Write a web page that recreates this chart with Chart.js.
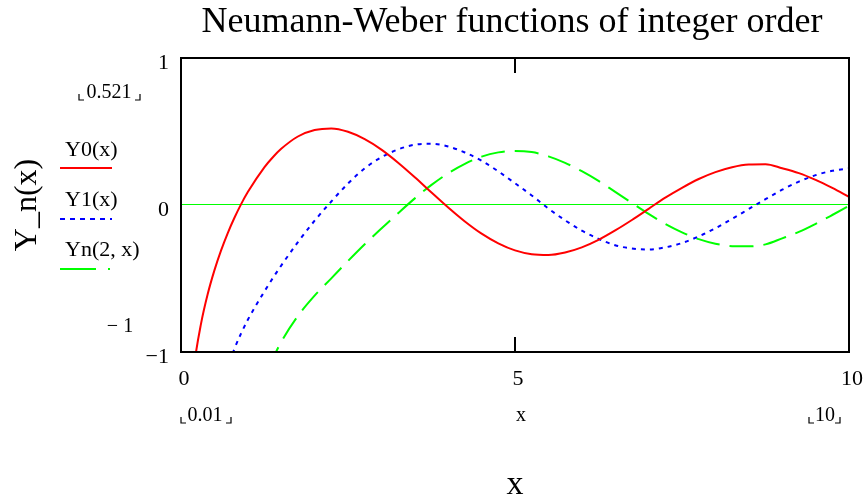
<!DOCTYPE html>
<html>
<head>
<meta charset="utf-8">
<script src="https://cdn.jsdelivr.net/npm/chart.js@4/dist/chart.umd.min.js"></script>
<style>
  html, body { margin: 0; padding: 0; background: #fff; }
</style>
</head>
<body>
<canvas id="Grafica1" width="865" height="497"></canvas>
<script>
// x values and the three curves
const xs = [0.01, 0.1, 0.2, 0.3, 0.4, 0.5, 0.6, 0.7, 0.8, 0.9, 1,
  1.25, 1.375, 1.5, 1.75, 2, 2.25, 2.5, 2.75, 3, 3.25, 3.5, 3.75,
  4, 4.25, 4.5, 4.75, 5, 5.25, 5.5, 5.75, 6, 6.25, 6.5, 6.75,
  7, 7.25, 7.5, 7.75, 8, 8.25, 8.5, 8.75, 9, 9.25, 9.5, 9.75, 10];

const y0 = [-3.005, -1.534, -1.081, -0.807, -0.606, -0.445, -0.309, -0.191, -0.087, 0.006, 0.088,
  0.258, 0.325, 0.382, 0.466, 0.510, 0.521, 0.498, 0.448, 0.377, 0.288, 0.189, 0.085,
  -0.017, -0.112, -0.195, -0.261, -0.309, -0.335, -0.340, -0.323, -0.288, -0.237, -0.173, -0.102,
  -0.026, 0.050, 0.117, 0.177, 0.224, 0.257, 0.275, 0.277, 0.250, 0.217, 0.171, 0.116, 0.056];

const y1 = [-63.68, -6.459, -3.324, -2.293, -1.781, -1.471, -1.260, -1.103, -0.978, -0.873, -0.781,
  -0.587, -0.497, -0.412, -0.253, -0.107, 0.024, 0.146, 0.249, 0.325, 0.378, 0.410, 0.416,
  0.398, 0.357, 0.301, 0.229, 0.148, 0.065, -0.024, -0.104, -0.175, -0.230, -0.274, -0.296,
  -0.303, -0.288, -0.259, -0.214, -0.158, -0.094, -0.027, 0.040, 0.104, 0.159, 0.203, 0.233, 0.249];

const y2 = [-12732, -127.6, -32.16, -14.48, -8.30, -5.44, -3.89, -2.96, -2.36, -1.946, -1.651,
  -1.198, -1.048, -0.932, -0.755, -0.617, -0.499, -0.381, -0.267, -0.160, -0.056, 0.045, 0.137,
  0.216, 0.280, 0.329, 0.358, 0.368, 0.360, 0.331, 0.287, 0.230, 0.164, 0.089, 0.014,
  -0.061, -0.129, -0.186, -0.232, -0.263, -0.280, -0.281, -0.268, -0.227, -0.183, -0.128, -0.068, -0.006];

const series_labels = ["Y0(x)", "Y1(x)", "Yn(2, x)"];
const x_ticks = [0, 5, 10];
const y_ticks = [-1, 0, 1];
const titulo = "Neumann-Weber functions of integer order";

const serif = '"Liberation Serif", "Times New Roman", serif';

function puntos(ys) {
	return xs.map((x, i) => ({ x: x, y: ys[i] }));
}

function minus(v) {
	return v < 0 ? "\u2212" + Math.abs(v) : String(v);
}

// corner marks around Mathcad range labels
function esquinas(c, x1, x2, yb) {
	c.beginPath();
	c.moveTo(x1, yb - 6); c.lineTo(x1, yb); c.lineTo(x1 + 5, yb);
	c.moveTo(x2, yb - 6); c.lineTo(x2, yb); c.lineTo(x2 - 5, yb);
	c.stroke();
}

// green line at y = 0, under the curves
const linea_cero = {
	id: "linea_cero",
	beforeDatasetsDraw(chart) {
		const c = chart.ctx;
		const a = chart.chartArea;
		const py = Math.round(chart.scales.y.getPixelForValue(0)) - 0.5;
		c.save();
		c.strokeStyle = "#00ff00";
		c.lineWidth = 1;
		c.beginPath(); c.moveTo(a.left, py); c.lineTo(a.right, py); c.stroke();
		c.restore();
	}
};

const extras = {
	id: "extras",
	afterDraw(chart) {
		const c = chart.ctx;
		const a = chart.chartArea;
		const sx = chart.scales.x;
		c.save();

		// frame + inner ticks
		c.strokeStyle = "#000";
		c.lineWidth = 2;
		c.strokeRect(a.left, a.top, a.right - a.left, a.bottom - a.top);
		x_ticks.forEach(v => {
			const px = sx.getPixelForValue(v);
			c.beginPath();
			c.moveTo(px, a.top); c.lineTo(px, a.top + 15);
			c.moveTo(px, a.bottom); c.lineTo(px, a.bottom - 15);
			c.stroke();
		});

		// title
		c.fillStyle = "#000";
		c.textAlign = "center";
		c.textBaseline = "alphabetic";
		c.font = "36px " + serif;
		c.fillText(titulo, 512, 32);

		// legend
		c.font = "22px " + serif;
		c.textAlign = "left";
		c.textBaseline = "middle";
		c.fillText(series_labels[0], 65, 150);
		c.fillText(series_labels[1], 65, 200);
		c.fillText(series_labels[2], 65, 250);

		c.lineWidth = 2;
		c.strokeStyle = "#ff0000";
		c.beginPath(); c.moveTo(60, 168); c.lineTo(112, 168); c.stroke();
		c.strokeStyle = "#0000ff";
		c.setLineDash([5, 5]);
		c.beginPath(); c.moveTo(60, 219); c.lineTo(112, 219); c.stroke();
		c.setLineDash([]);
		c.strokeStyle = "#00ff00";
		c.beginPath(); c.moveTo(60, 269); c.lineTo(96, 269); c.moveTo(108, 269); c.lineTo(110, 269); c.stroke();

		// range labels
		c.font = "20px " + serif;
		c.textAlign = "center";
		c.fillText("0.521", 109, 93);
		c.fillText("\u2212 1", 120, 327);
		c.fillText("0.01", 205, 416);
		c.fillText("x", 521, 416);
		c.fillText("10", 825, 416);
		c.strokeStyle = "#000";
		c.lineWidth = 1.2;
		esquinas(c, 79, 140, 100);
		esquinas(c, 181, 231, 423);
		esquinas(c, 809, 840, 423);

		c.restore();
	}
};

const ctx = document.getElementById("Grafica1").getContext("2d");
let Grafica1 = new Chart(ctx, {
	type: "line",
	data: {
		datasets: [
			{
				label: series_labels[0],
				data: puntos(y0),
				borderColor: "#ff0000",
				borderWidth: 2,
			},
			{
				label: series_labels[1],
				data: puntos(y1),
				borderColor: "#0000ff",
				borderWidth: 2,
				borderDash: [4, 5],
			},
			{
				label: series_labels[2],
				data: puntos(y2),
				borderColor: "#00ff00",
				borderWidth: 2,
				borderDash: [24, 10],
			},
		],
	},
	options: {
		responsive: false,
		animation: false,
		devicePixelRatio: 1,
		cubicInterpolationMode: "monotone",
		elements: { point: { radius: 0 } },
		layout: { padding: { top: 58, right: 16, left: 0, bottom: 0 } },
		plugins: {
			legend: { display: false },
			tooltip: { enabled: false },
		},
		scales: {
			x: {
				type: "linear",
				min: 0,
				max: 10,
				afterFit: s => { s.height = 145; s.paddingLeft = 0; s.paddingRight = 0; },
				afterBuildTicks: s => { s.ticks = x_ticks.map(v => ({ value: v })); },
				grid: { display: false, drawTicks: false },
				border: { display: false },
				ticks: {
					color: "#000",
					padding: 14,
					maxRotation: 0,
					labelOffset: 3,
					font: { size: 22, family: serif },
				},
				title: {
					display: true,
					text: "x",
					color: "#000",
					padding: 0,
					font: { size: 34, family: serif, lineHeight: 0.7 },
				},
			},
			y: {
				min: -1,
				max: 1,
				afterFit: s => { s.width = 181; s.paddingTop = 0; s.paddingBottom = 0; },
				afterBuildTicks: s => { s.ticks = y_ticks.map(v => ({ value: v })); },
				grid: { display: false, drawTicks: false },
				border: { display: false },
				ticks: {
					color: "#000",
					padding: 12,
					labelOffset: 5,
					font: { size: 22, family: serif },
					callback: v => minus(v),
				},
				title: {
					display: true,
					text: "Y_n(x)",
					color: "#000",
					padding: { top: 8, bottom: 0 },
					font: { size: 32, family: serif },
				},
			},
		},
	},
	plugins: [linea_cero, extras],
});
</script>
</body>
</html>
